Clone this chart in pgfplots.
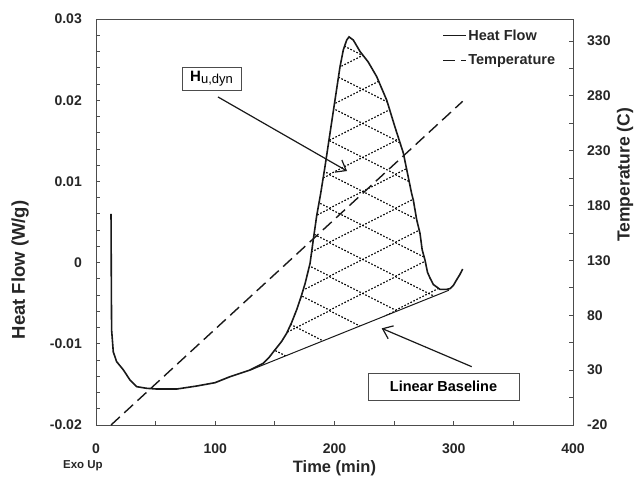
\documentclass[border=0pt]{standalone}
\usepackage{fontspec}
\setmainfont{Liberation Sans}
\usepackage{pgfplots}
\pgfplotsset{compat=1.18}
\usetikzlibrary{patterns.meta,arrows.meta}

\tikzdeclarepattern{
  name=dsccross, type=uncolored,
  bottom left={(0,0)}, top right={(66bp,34bp)}, tile size={(66bp,34bp)},
  code={\draw[line width=1.2bp, dash pattern=on 1.6bp off 1.8bp] (-6.6bp,-3.4bp)--(72.6bp,37.4bp) (-6.6bp,37.4bp)--(72.6bp,-3.4bp);}
}

\pgfplotstableread{
x y
12.6 0.0060
12.9 -0.0040
13.1 -0.0083
14.5 -0.0110
17.3 -0.0122
22.9 -0.0132
28.5 -0.01446
34.1 -0.01528
42.5 -0.01548
50.9 -0.01557
67.7 -0.01557
84.4 -0.01520
99.8 -0.01479
112.4 -0.01405
129.1 -0.01323
140.3 -0.0124
145.0 -0.0117
148.7 -0.0110
152.5 -0.0103
155.7 -0.0097
159.9 -0.0087
164.0 -0.0074
168.3 -0.0058
172.0 -0.0042
175.3 -0.0026
179.5 -0.0001
182.2 0.0028
185.1 0.0058
188.4 0.0085
192.0 0.0118
196.2 0.0159
200.4 0.0200
204.6 0.0241
207.4 0.0262
210.2 0.0274
212.2 0.0278
215.8 0.0274
221.4 0.0260
228.3 0.0247
235.4 0.0229
243.8 0.0200
250.7 0.0167
257.7 0.0135
264.7 0.0085
266.1 0.0077
268.9 0.0053
271.7 0.0036
273.5 0.0016
275.9 0.0003
278.0 -0.0012
280.1 -0.0019
282.9 -0.0027
285.7 -0.0030
288.5 -0.0033
291.2 -0.0033
294.0 -0.0033
296.9 -0.0032
299.7 -0.0028
302.5 -0.0021
305.0 -0.0015
307.5 -0.0008
}\heatflow

\pgfplotstableread{
x y
130 -0.0132
140.3 -0.0124
145.0 -0.0117
148.7 -0.0110
152.5 -0.0103
155.7 -0.0097
159.9 -0.0087
164.0 -0.0074
168.3 -0.0058
172.0 -0.0042
175.3 -0.0026
179.5 -0.0001
182.2 0.0028
185.1 0.0058
188.4 0.0085
192.0 0.0118
196.2 0.0159
200.4 0.0200
204.6 0.0241
207.4 0.0262
210.2 0.0274
212.2 0.0278
215.8 0.0274
221.4 0.0260
228.3 0.0247
235.4 0.0229
243.8 0.0200
250.7 0.0167
257.7 0.0135
264.7 0.0085
266.1 0.0077
268.9 0.0053
271.7 0.0036
273.5 0.0016
275.9 0.0003
278.0 -0.0012
280.1 -0.0019
282.9 -0.0027
285.7 -0.0030
288.5 -0.0033
291.2 -0.0033
294.0 -0.0033
296 -0.0034
}\hatcharea

\pgfplotstableread{
x y
130 -0.0132
296 -0.0034
}\basedata

\pgfplotstableread{
x y
12.6 -20
307.5 275
}\tempdata

\begin{document}
\begin{tikzpicture}
\useasboundingbox (-96bp,-55bp) rectangle (548bp,425bp);
\begin{axis}[
  scale only axis, width=477bp, height=406bp,
  xmin=0, xmax=400, ymin=-0.02, ymax=0.03,
  scaled y ticks=false, scaled x ticks=false,
  xtick={0,100,200,300,400}, xticklabels={0,100,200,300,400},
  minor x tick num=1,
  ytick={-0.02,-0.01,0,0.01,0.02,0.03},
  yticklabels={-0.02,-0.01,0,0.01,0.02,0.03},
  minor y tick num=4,
  xtick pos=bottom, ytick pos=left, tick align=inside,
  axis line style={black!70, line width=0.8bp},
  every tick/.style={black!70, line width=0.8bp},
  major tick length=4bp, minor tick length=4bp,
  tick label style={font=\bfseries\fontsize{14bp}{16bp}\selectfont, inner sep=0pt, text=black!85},
  yticklabel style={xshift=-14bp},
  xticklabel style={yshift=-19bp},
  xlabel={Time (min)},
  xlabel style={at={(axis description cs:0.5,-0.106)}, anchor=center, font=\bfseries\fontsize{16.5bp}{18bp}\selectfont, text=black!85},
  ylabel={Heat Flow (W/g)},
  ylabel style={at={(axis description cs:-0.1593,0.382)}, anchor=center, font=\bfseries\fontsize{18.5bp}{20bp}\selectfont, text=black!85},
  clip=false,
]
\addplot[pattern=dsccross, pattern color=black, draw=none] table {\hatcharea} -- cycle;
\addplot[black!90, line width=1bp] table {\basedata};
\addplot[black!90, line width=1.6bp] table {\heatflow};

\node[draw=black!70, fill=white, line width=0.8bp, inner sep=0pt, minimum width=59bp, minimum height=23bp]
  at (axis cs:96.9,0.02267) {\fontsize{15bp}{17bp}\selectfont\bfseries H\raisebox{-1.5bp}{\mdseries\fontsize{13bp}{15bp}\selectfont u,dyn}};
\draw[black!90, line width=1.2bp, -{Straight Barb[length=9bp, width=14bp]}] (axis cs:102.3,0.0204) -- (axis cs:210.5,0.01128);

\node[draw=black!70, fill=white, line width=0.8bp, inner sep=0pt, minimum width=151bp, minimum height=27bp]
  at (axis cs:291.4,-0.01526) {\fontsize{14.5bp}{17bp}\selectfont\bfseries Linear Baseline};
\draw[black!90, line width=1.2bp, -{Straight Barb[length=9bp, width=14bp]}] (axis cs:315.1,-0.01282) -- (axis cs:239.6,-0.0081);

\node[font=\bfseries\fontsize{11.5bp}{13bp}\selectfont, text=black!85] at (axis description cs:-0.0273,-0.101) {Exo Up};
\end{axis}

\begin{axis}[
  scale only axis, width=477bp, height=406bp,
  xmin=0, xmax=400, ymin=-20, ymax=350,
  axis x line=none, axis y line*=right, tick align=inside,
  ytick={-20,30,80,130,180,230,280,330},
  yticklabels={-20,30,80,130,180,230,280,330},
  minor y tick num=1,
  axis line style={black!70, line width=0.8bp},
  every tick/.style={black!70, line width=0.8bp},
  major tick length=4bp, minor tick length=4bp,
  tick label style={font=\bfseries\fontsize{14bp}{16bp}\selectfont, inner sep=0pt, text=black!85},
  yticklabel style={xshift=14bp},
  ylabel={Temperature (C)},
  ylabel style={at={(axis description cs:1.109,0.616)}, anchor=center, font=\bfseries\fontsize{17.5bp}{19bp}\selectfont, text=black!85},
  legend style={draw=none, fill=none, at={(0.966,0.978)}, anchor=north east,
    font=\bfseries\fontsize{14.5bp}{16bp}\selectfont, text=black!85, row sep=10bp,
    inner sep=0pt, nodes={inner sep=1.5bp}},
  legend cell align=left,
  legend image code/.code={\draw[#1] (0bp,0bp) -- (23bp,0bp);},
  clip=false,
]
\addlegendimage{black!90, line width=1.6bp}
\addlegendentry{Heat Flow}
\addplot[black!90, line width=1.4bp, dash pattern=on 12bp off 6bp] table {\tempdata};
\addlegendentry{Temperature}
\end{axis}
\end{tikzpicture}
\end{document}
